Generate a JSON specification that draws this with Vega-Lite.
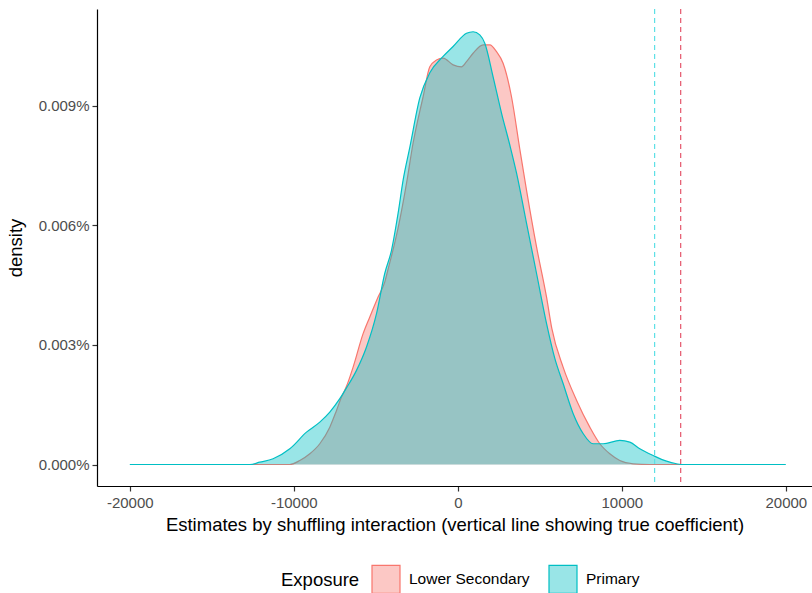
{
  "$schema": "https://vega.github.io/schema/vega-lite/v6.json",
  "autosize": "none",
  "width": 715,
  "height": 477,
  "padding": {"left": 97, "top": 9, "right": 0, "bottom": 107},
  "background": "white",
  "datasets": {
    "dens": [
      {"Exposure": "Lower Secondary", "x": -12683, "density": 0},
      {"Exposure": "Lower Secondary", "x": -10244, "density": 0},
      {"Exposure": "Lower Secondary", "x": -9634, "density": 0.000001},
      {"Exposure": "Lower Secondary", "x": -9024, "density": 0.00000269},
      {"Exposure": "Lower Secondary", "x": -8415, "density": 0.0000052},
      {"Exposure": "Lower Secondary", "x": -7805, "density": 0.00000937},
      {"Exposure": "Lower Secondary", "x": -7396, "density": 0.00001356},
      {"Exposure": "Lower Secondary", "x": -7091, "density": 0.0000169},
      {"Exposure": "Lower Secondary", "x": -6787, "density": 0.0000196},
      {"Exposure": "Lower Secondary", "x": -6384, "density": 0.0000244},
      {"Exposure": "Lower Secondary", "x": -5774, "density": 0.0000328},
      {"Exposure": "Lower Secondary", "x": -5366, "density": 0.000037},
      {"Exposure": "Lower Secondary", "x": -4860, "density": 0.000042},
      {"Exposure": "Lower Secondary", "x": -4451, "density": 0.0000458},
      {"Exposure": "Lower Secondary", "x": -4268, "density": 0.0000487},
      {"Exposure": "Lower Secondary", "x": -3640, "density": 0.0000593},
      {"Exposure": "Lower Secondary", "x": -3128, "density": 0.0000705},
      {"Exposure": "Lower Secondary", "x": -2726, "density": 0.0000806},
      {"Exposure": "Lower Secondary", "x": -2116, "density": 0.0000922},
      {"Exposure": "Lower Secondary", "x": -1707, "density": 0.0000997},
      {"Exposure": "Lower Secondary", "x": -1299, "density": 0.0001014},
      {"Exposure": "Lower Secondary", "x": -896, "density": 0.0001019},
      {"Exposure": "Lower Secondary", "x": -287, "density": 0.0001002},
      {"Exposure": "Lower Secondary", "x": 226, "density": 0.0000997},
      {"Exposure": "Lower Secondary", "x": 530, "density": 0.000101},
      {"Exposure": "Lower Secondary", "x": 933, "density": 0.0001031},
      {"Exposure": "Lower Secondary", "x": 1543, "density": 0.0001052},
      {"Exposure": "Lower Secondary", "x": 1951, "density": 0.0001052},
      {"Exposure": "Lower Secondary", "x": 2360, "density": 0.0001035},
      {"Exposure": "Lower Secondary", "x": 2762, "density": 0.0001006},
      {"Exposure": "Lower Secondary", "x": 3274, "density": 0.0000922},
      {"Exposure": "Lower Secondary", "x": 3780, "density": 0.0000791},
      {"Exposure": "Lower Secondary", "x": 4189, "density": 0.0000688},
      {"Exposure": "Lower Secondary", "x": 4799, "density": 0.0000546},
      {"Exposure": "Lower Secondary", "x": 5409, "density": 0.000042},
      {"Exposure": "Lower Secondary", "x": 5732, "density": 0.0000341},
      {"Exposure": "Lower Secondary", "x": 6421, "density": 0.0000244},
      {"Exposure": "Lower Secondary", "x": 7238, "density": 0.0000161},
      {"Exposure": "Lower Secondary", "x": 8049, "density": 0.00000937},
      {"Exposure": "Lower Secondary", "x": 8659, "density": 0.0000052},
      {"Exposure": "Lower Secondary", "x": 9268, "density": 0.00000269},
      {"Exposure": "Lower Secondary", "x": 9878, "density": 0.000001},
      {"Exposure": "Lower Secondary", "x": 10689, "density": 0.00000018},
      {"Exposure": "Lower Secondary", "x": 11707, "density": 0},
      {"Exposure": "Lower Secondary", "x": 13598, "density": 0},
      {"Exposure": "Primary", "x": -20000, "density": 0},
      {"Exposure": "Primary", "x": -12683, "density": 0},
      {"Exposure": "Primary", "x": -12073, "density": 0.00000058},
      {"Exposure": "Primary", "x": -11262, "density": 0.00000143},
      {"Exposure": "Primary", "x": -10244, "density": 0.00000394},
      {"Exposure": "Primary", "x": -9226, "density": 0.00000811},
      {"Exposure": "Primary", "x": -8415, "density": 0.00001062},
      {"Exposure": "Primary", "x": -7805, "density": 0.00001313},
      {"Exposure": "Primary", "x": -7195, "density": 0.0000165},
      {"Exposure": "Primary", "x": -6787, "density": 0.0000192},
      {"Exposure": "Primary", "x": -6177, "density": 0.0000236},
      {"Exposure": "Primary", "x": -5567, "density": 0.00002945},
      {"Exposure": "Primary", "x": -4957, "density": 0.0000378},
      {"Exposure": "Primary", "x": -4451, "density": 0.00004795},
      {"Exposure": "Primary", "x": -4043, "density": 0.0000537},
      {"Exposure": "Primary", "x": -3640, "density": 0.000063},
      {"Exposure": "Primary", "x": -3335, "density": 0.0000713},
      {"Exposure": "Primary", "x": -2927, "density": 0.0000795},
      {"Exposure": "Primary", "x": -2317, "density": 0.0000919},
      {"Exposure": "Primary", "x": -1707, "density": 0.0000982},
      {"Exposure": "Primary", "x": -896, "density": 0.0001023},
      {"Exposure": "Primary", "x": -287, "density": 0.0001048},
      {"Exposure": "Primary", "x": 530, "density": 0.0001081},
      {"Exposure": "Primary", "x": 933, "density": 0.0001085},
      {"Exposure": "Primary", "x": 1341, "density": 0.0001077},
      {"Exposure": "Primary", "x": 1646, "density": 0.0001056},
      {"Exposure": "Primary", "x": 2152, "density": 0.0000972},
      {"Exposure": "Primary", "x": 2665, "density": 0.0000881},
      {"Exposure": "Primary", "x": 3171, "density": 0.0000801},
      {"Exposure": "Primary", "x": 3579, "density": 0.0000731},
      {"Exposure": "Primary", "x": 4189, "density": 0.0000605},
      {"Exposure": "Primary", "x": 4799, "density": 0.00004795},
      {"Exposure": "Primary", "x": 5409, "density": 0.0000354},
      {"Exposure": "Primary", "x": 5915, "density": 0.0000266},
      {"Exposure": "Primary", "x": 6421, "density": 0.0000203},
      {"Exposure": "Primary", "x": 7030, "density": 0.0000128},
      {"Exposure": "Primary", "x": 7640, "density": 0.00000778},
      {"Exposure": "Primary", "x": 8250, "density": 0.0000052},
      {"Exposure": "Primary", "x": 8860, "density": 0.0000052},
      {"Exposure": "Primary", "x": 9878, "density": 0.00000603},
      {"Exposure": "Primary", "x": 10488, "density": 0.0000056},
      {"Exposure": "Primary", "x": 11098, "density": 0.00000394},
      {"Exposure": "Primary", "x": 11909, "density": 0.00000226},
      {"Exposure": "Primary", "x": 12726, "density": 0.00000083},
      {"Exposure": "Primary", "x": 13335, "density": 0.00000018},
      {"Exposure": "Primary", "x": 13598, "density": 0},
      {"Exposure": "Primary", "x": 20000, "density": 0}
    ],
    "truth": [
      {"Exposure": "Primary", "x": 12000},
      {"Exposure": "Lower Secondary", "x": 13590}
    ]
  },
  "encoding": {
    "x": {
      "field": "x",
      "type": "quantitative",
      "scale": {"domain": [-22000, 21597], "nice": false, "zero": false},
      "axis": {
        "values": [-20000, -10000, 0, 10000, 20000],
        "labelExpr": "'' + datum.value",
        "labelPadding": 4,
        "titlePadding": 5,
        "title": "Estimates by shuffling interaction (vertical line showing true coefficient)"
      }
    }
  },
  "layer": [
    {
      "data": {"name": "dens"},
      "transform": [{"filter": "datum.Exposure === 'Lower Secondary'"}],
      "mark": {"type": "area", "fillOpacity": 0.4, "interpolate": "monotone", "clip": true},
      "encoding": {
        "y": {"field": "density", "type": "quantitative"},
        "color": {"field": "Exposure", "type": "nominal"}
      }
    },
    {
      "data": {"name": "dens"},
      "transform": [{"filter": "datum.Exposure === 'Lower Secondary'"}],
      "mark": {"type": "line", "strokeWidth": 1.2, "interpolate": "monotone", "clip": true},
      "encoding": {
        "y": {"field": "density", "type": "quantitative"},
        "color": {"field": "Exposure", "type": "nominal"}
      }
    },
    {
      "data": {"name": "dens"},
      "transform": [{"filter": "datum.Exposure === 'Primary'"}],
      "mark": {"type": "area", "fillOpacity": 0.4, "interpolate": "monotone", "clip": true},
      "encoding": {
        "y": {"field": "density", "type": "quantitative"},
        "color": {"field": "Exposure", "type": "nominal"}
      }
    },
    {
      "data": {"name": "dens"},
      "transform": [{"filter": "datum.Exposure === 'Primary'"}],
      "mark": {"type": "line", "strokeWidth": 1.2, "interpolate": "monotone", "clip": true},
      "encoding": {
        "y": {
          "field": "density",
          "type": "quantitative",
          "scale": {"domain": [-0.00000539, 0.0001142], "nice": false, "zero": false},
          "axis": {
            "values": [0, 0.00003, 0.00006, 0.00009],
            "format": ".3%",
            "labelPadding": 3,
            "titlePadding": 13,
            "title": "density"
          }
        },
        "color": {
          "field": "Exposure",
          "type": "nominal",
          "scale": {"domain": ["Lower Secondary", "Primary"], "range": ["#F8766D", "#00BFC4"]},
          "legend": {
            "orient": "none",
            "legendX": 184,
            "legendY": 555,
            "direction": "horizontal",
            "titleOrient": "left",
            "symbolType": "square",
            "symbolSize": 784,
            "symbolStrokeWidth": 1.2,
            "labelLimit": 300,
            "encode": {
              "symbols": {
                "update": {
                  "fill": {"scale": "color", "field": "value"},
                  "stroke": {"scale": "color", "field": "value"},
                  "fillOpacity": {"value": 0.4},
                  "strokeOpacity": {"value": 1},
                  "opacity": {"value": 1}
                }
              }
            }
          }
        }
      }
    },
    {
      "data": {"name": "truth"},
      "transform": [{"filter": "datum.Exposure === 'Primary'"}],
      "mark": {"type": "rule", "strokeWidth": 1.2, "strokeDash": [5, 4], "color": "#5EE0E6"},
      "encoding": {}
    },
    {
      "data": {"name": "truth"},
      "transform": [{"filter": "datum.Exposure === 'Lower Secondary'"}],
      "mark": {"type": "rule", "strokeWidth": 1.2, "strokeDash": [5, 4], "color": "#E4566C"},
      "encoding": {}
    }
  ],
  "config": {
    "view": {"stroke": null},
    "font": "Liberation Sans",
    "axis": {
      "grid": false,
      "domainColor": "#000000",
      "domainWidth": 1.2,
      "tickColor": "#333333",
      "tickWidth": 1.2,
      "tickSize": 5,
      "labelColor": "#4D4D4D",
      "labelFont": "Liberation Sans",
      "labelFontSize": 15,
      "titleFont": "Liberation Sans",
      "titleFontSize": 18.5,
      "titleFontWeight": "normal",
      "titleColor": "#000000"
    },
    "legend": {
      "titleFontSize": 18.5,
      "titleFontWeight": "normal",
      "titleColor": "#000000",
      "titleFont": "Liberation Sans",
      "titlePadding": 11,
      "labelFontSize": 15.5,
      "labelFont": "Liberation Sans",
      "labelColor": "#000000",
      "labelOffset": 8,
      "columnPadding": 16
    }
  }
}
